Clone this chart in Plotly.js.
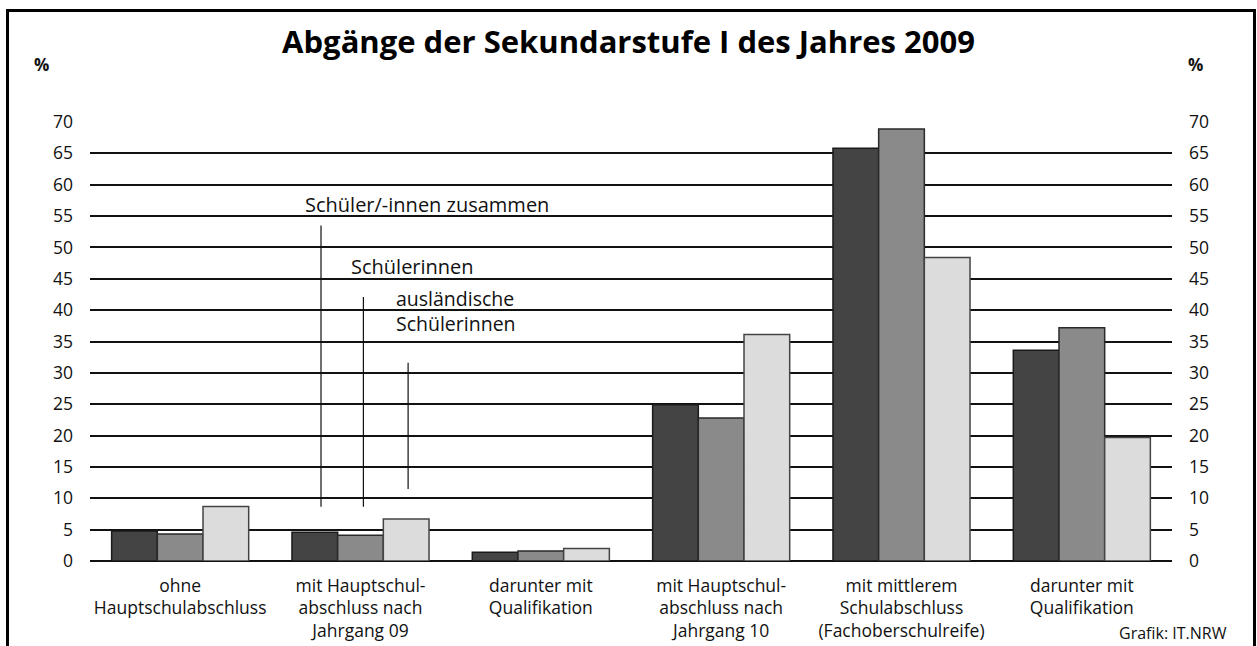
<!DOCTYPE html>
<html>
<head>
<meta charset="utf-8">
<script src="https://cdn.plot.ly/plotly-3.0.1.min.js"></script>
<style>
html,body{margin:0;padding:0;background:#fff;}
#wrap{position:relative;width:1257px;height:646px;}
#chart{width:1257px;height:646px;}
#frame{position:absolute;left:6px;top:9px;width:1244px;height:640px;border-left:3px solid #000;border-top:3px solid #000;border-right:3px solid #000;pointer-events:none;}
</style>
</head>
<body>
<div id="wrap"><div id="chart"></div><div id="frame"></div></div>
<script>
const categories = [
  "ohne<br>Hauptschulabschluss",
  "mit Hauptschul-<br>abschluss nach<br>Jahrgang 09",
  "darunter mit<br>Qualifikation",
  "mit Hauptschul-<br>abschluss nach<br>Jahrgang 10",
  "mit mittlerem<br>Schulabschluss<br>(Fachoberschulreife)",
  "darunter mit<br>Qualifikation"
];
const seriesNames = ["Schüler/-innen zusammen", "Schülerinnen", "ausländische Schülerinnen"];
const zusammen   = [4.8, 4.6, 1.4, 24.9, 65.8, 33.6];
const schuelerinnen = [4.3, 4.1, 1.6, 22.8, 68.9, 37.2];
const auslaendische = [8.7, 6.7, 2.0, 36.1, 48.4, 19.7];
const yTicks = [0,5,10,15,20,25,30,35,40,45,50,55,60,65,70];

const xs = categories.map((_, i) => i);
const colors = ["#444444", "#8a8a8a", "#dcdcdc"];
const lineCols = ["#1a1a1a", "#2a2a2a", "#444444"];
const vals = [zusammen, schuelerinnen, auslaendische];

const traces = vals.map((v, k) => ({
  type: "bar", x: xs, y: v, name: seriesNames[k],
  marker: {color: colors[k], line: {color: lineCols[k], width: 1.5}},
  hoverinfo: "y"
}));
traces.push({type: "scatter", x: [0], y: [0], yaxis: "y2", mode: "markers",
  marker: {opacity: 0}, showlegend: false, hoverinfo: "skip"});

const font = "Open Sans, Noto Sans, sans-serif";
const layout = {
  width: 1257, height: 646,
  margin: {l: 90, r: 85, t: 122, b: 85},
  paper_bgcolor: "#fff", plot_bgcolor: "#fff",
  showlegend: false,
  barmode: "group", bargap: 0.24, bargroupgap: 0,
  font: {family: font, size: 17, color: "#111"},
  title: {text: "<b>Abgänge der Sekundarstufe I des Jahres 2009</b>",
    font: {family: font, size: 31, color: "#000"},
    x: 0.5, xanchor: "center", y: 0.935, yanchor: "middle"},
  xaxis: {range: [-0.5, 5.5], tickvals: xs, ticktext: categories,
    showgrid: false, zeroline: false, showline: false, ticks: "", ticklabelstandoff: 12,
    tickfont: {size: 17.5, family: font, color: "#111"}, fixedrange: true},
  yaxis: {range: [0, 70], tickvals: yTicks, showgrid: true, gridcolor: "#111",
    gridwidth: 2, zeroline: true, zerolinecolor: "#111", zerolinewidth: 2,
    showline: false, ticks: "", ticklabelstandoff: 16,
    tickfont: {size: 17.5, family: font, color: "#111"}, fixedrange: true},
  yaxis2: {range: [0, 70], tickvals: yTicks, overlaying: "y", side: "right",
    showgrid: false, zeroline: false, showline: false, ticks: "", ticklabelstandoff: 16,
    tickfont: {size: 17.5, family: font, color: "#111"}, fixedrange: true},
  annotations: [
    {text: "<b>%</b>", xref: "paper", yref: "paper", x: -0.045, y: 1.13, xanchor: "center", yanchor: "middle", showarrow: false, font: {size: 17}},
    {text: "<b>%</b>", xref: "paper", yref: "paper", x: 1.022, y: 1.13, xanchor: "center", yanchor: "middle", showarrow: false, font: {size: 17}},
    {text: seriesNames[0], x: 0.681, y: 56.9, xanchor: "left", yanchor: "middle", showarrow: false, font: {size: 20}},
    {text: seriesNames[1], x: 0.936, y: 47.0, xanchor: "left", yanchor: "middle", showarrow: false, font: {size: 20}},
    {text: "ausländische<br>Schülerinnen", x: 1.186, y: 39.8, xanchor: "left", yanchor: "middle", align: "left", showarrow: false, font: {size: 19.5}},
    {text: "Grafik: IT.NRW", xref: "paper", yref: "paper", x: 1.053, y: -0.165, xanchor: "right", yanchor: "middle", showarrow: false, font: {size: 16}}
  ],
  shapes: [
    {type: "line", x0: 0.781, x1: 0.781, y0: 8.66, y1: 53.5, line: {color: "#111", width: 1.2}},
    {type: "line", x0: 1.016, x1: 1.016, y0: 8.66, y1: 42.1, line: {color: "#111", width: 1.2}},
    {type: "line", x0: 1.264, x1: 1.264, y0: 11.5, y1: 31.6, line: {color: "#111", width: 1.2}}
  ]
};
Plotly.newPlot("chart", traces, layout, {displayModeBar: false, staticPlot: true});
</script>
</body>
</html>
